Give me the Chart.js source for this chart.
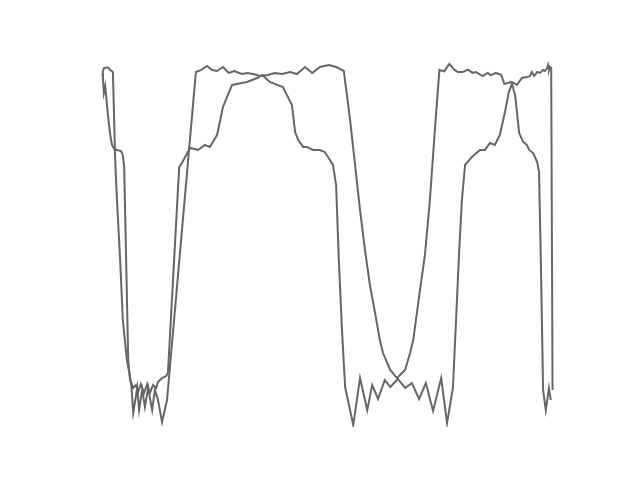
<!DOCTYPE html>
<html>
<head>
<meta charset="utf-8">
<script src="https://cdn.jsdelivr.net/npm/chart.js@4"></script>
<style>
  html, body { margin: 0; padding: 0; background: #ffffff; }
  #wrap { width: 640px; height: 480px; }
</style>
</head>
<body>
<div id="wrap"><canvas id="c" width="640" height="480"></canvas></div>
<script>
// Series A
const seriesAX = [0.00,0.03,0.12,0.17,0.23,0.28,0.32,0.39,0.45,0.54,0.61,0.64,0.68,0.77,0.81,0.88,0.94,1.01,1.10,1.16,1.23,1.32,1.43,
  2.07,2.18,2.32,2.43,2.54,2.67,2.80,2.92,3.09,3.20,3.34,3.49,3.67,3.82,3.98,4.16,4.31,4.49,4.65,4.82,5.02,5.18,5.35,
  5.49,5.60,5.71,5.82,5.93,6.04,6.15,6.22,6.38,6.53,6.71,6.82,6.89,7.04,7.15,7.26,7.37,
  7.47,7.58,7.69,7.80,7.88,7.99,8.10,8.21,8.28,8.43,8.54,8.61,8.72,8.84,8.91,8.99,9.06,9.12,9.19,9.30,9.41,9.48,9.52,9.57,9.64,9.70,9.77,9.81,9.86,9.88,9.90,9.92,9.95,9.98];
const seriesAY = [0.942,0.969,0.973,0.958,0.947,0.458,0.236,-0.097,-0.431,-0.653,-0.747,-0.797,-0.947,-0.808,-0.931,-0.819,-0.914,-0.808,-0.931,-0.819,-0.875,-0.997,-0.875,
  0.947,0.958,0.981,0.958,0.953,0.975,0.942,0.953,0.936,0.942,0.936,0.925,0.931,0.942,0.936,0.947,0.936,0.975,0.942,0.975,0.986,0.975,0.953,
  0.681,0.431,0.181,-0.042,-0.236,-0.386,-0.542,-0.614,-0.708,-0.753,-0.708,-0.614,-0.542,-0.264,-0.069,0.236,0.625,
  0.958,0.951,0.992,0.960,0.947,0.947,0.960,0.942,0.947,0.925,0.942,0.929,0.942,0.932,0.881,0.886,0.892,0.886,0.875,0.914,0.919,0.925,0.947,0.925,0.947,0.942,0.958,0.953,0.969,0.986,0.958,0.975,0.969,-0.819];

// Series B
const seriesBX = [0.00,0.01,0.03,0.06,0.08,0.12,0.17,0.21,0.26,0.32,0.41,0.45,0.48,0.57,0.61,0.68,0.74,0.79,0.85,0.92,0.99,1.05,1.12,1.19,1.23,1.32,1.41,1.45,
  1.70,1.76,1.94,2.12,2.27,2.38,2.54,2.67,2.87,2.98,3.20,3.43,3.54,3.71,3.82,4.00,4.09,4.20,4.27,4.34,4.45,4.53,4.67,4.82,4.93,5.00,5.11,5.18,5.24,5.31,5.38,
  5.56,5.71,5.87,5.98,6.11,6.26,6.38,6.55,6.71,6.86,7.02,7.17,7.33,7.51,7.64,7.77,7.84,7.91,7.97,8.04,
  8.19,8.37,8.48,8.59,8.70,8.81,8.92,9.01,9.08,9.15,9.24,9.33,9.41,9.46,9.55,9.64,9.68,9.72,9.77,9.83,9.90,9.94];
const seriesBY = [0.942,0.903,0.831,0.869,0.814,0.708,0.597,0.542,0.519,0.514,0.508,0.486,0.419,-0.653,-0.764,-0.808,-0.792,-0.831,-0.786,-0.836,-0.786,-0.836,-0.792,-0.808,-0.775,-0.753,-0.742,-0.725,
  0.419,0.442,0.525,0.514,0.542,0.531,0.597,0.753,0.875,0.881,0.892,0.914,0.931,0.892,0.881,0.864,0.819,0.764,0.614,0.569,0.531,0.531,0.514,0.514,0.503,0.475,0.431,0.319,-0.097,-0.486,-0.803,
  -1.014,-0.753,-0.931,-0.792,-0.869,-0.764,-0.803,-0.758,-0.808,-0.781,-0.869,-0.781,-0.936,-0.753,-1.003,-0.808,-0.431,-0.042,0.236,0.431,
  0.475,0.514,0.514,0.553,0.542,0.597,0.719,0.836,0.881,0.819,0.608,0.558,0.542,0.514,0.497,0.447,0.392,-0.097,-0.819,-0.931,-0.808,-0.875];

const toPoints = (xs, ys) => xs.map((x, i) => ({ x: x, y: ys[i] }));

new Chart(document.getElementById('c'), {
  type: 'line',
  data: {
    datasets: [
      { data: toPoints(seriesAX, seriesAY), borderColor: '#666666', borderWidth: 2, pointRadius: 0, tension: 0, fill: false },
      { data: toPoints(seriesBX, seriesBY), borderColor: '#666666', borderWidth: 2, pointRadius: 0, tension: 0, fill: false }
    ]
  },
  options: {
    responsive: false,
    animation: false,
    layout: { padding: { left: 80, right: 64, top: 58, bottom: 53 } },
    plugins: { legend: { display: false }, tooltip: { enabled: false } },
    scales: {
      x: { type: 'linear', min: -0.5, max: 10.5, display: false },
      y: { type: 'linear', min: -1.025, max: 1.025, display: false }
    }
  }
});
</script>
</body>
</html>
